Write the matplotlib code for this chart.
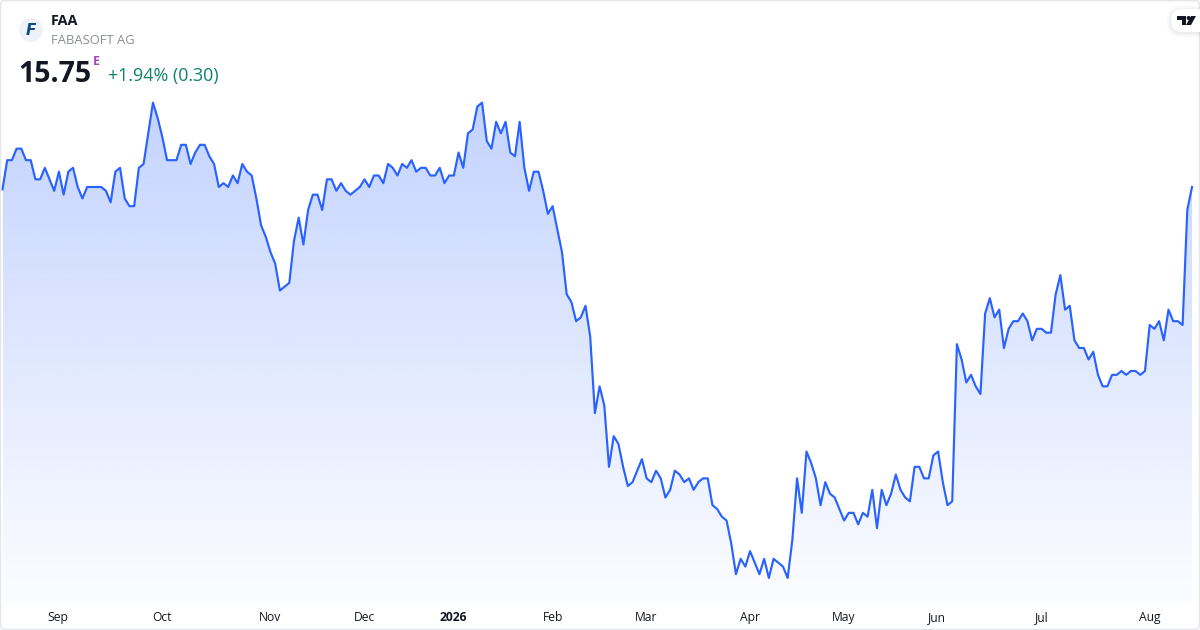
import numpy as np
import matplotlib
matplotlib.use("Agg")
import matplotlib.pyplot as plt
from matplotlib.patches import Circle, FancyBboxPatch, Polygon
from matplotlib.colors import to_rgb

plt.rcParams['font.family'] = ['Open Sans', 'DejaVu Sans']

# prezzi
prezzi_1 = [15.72,16.10,16.10,16.25,16.25,16.10,16.10,15.85,15.85,16.00,15.85,15.70,15.95,15.65,15.95,16.00,
            15.75,15.60,15.75,15.75,15.75,15.75,15.70,15.55,15.95,16.00,15.60,15.50,15.50,16.00,16.05,16.45,
            16.85,16.65,16.40,16.10,16.10,16.10,16.30,16.30,16.05,16.20,16.30,16.30,16.15,16.05,15.75,15.80,
            15.75,15.90,15.80,16.05,15.95,15.90,15.60,15.25,15.10,14.90,14.75,14.40,14.45,14.50,15.05,15.35]
prezzi_2 = [15.00,15.45,15.65,15.65,15.45,15.85,15.85,15.70,15.80,15.70,15.65,15.70,15.75,15.85,15.75,15.90,
            15.90,15.80,16.05,16.00,15.90,16.05,16.00,16.10,15.95,16.00,16.00,15.90,15.90,16.00,15.80,15.90,
            15.90,16.20,16.00,16.45,16.50,16.80,16.85,16.35,16.25,16.60,16.45,16.60,16.20,16.15,16.60,16.00,
            15.70,15.95,15.95,15.70,15.40,15.50,15.20,14.90,14.35]
prezzi_3 = [14.25,14.00,14.05,14.20,13.80,12.80,13.15,12.90,12.10,12.50,12.40,12.10,11.85,11.90,12.05,12.20,
            11.95,11.90,12.05,11.95,11.70,11.80,12.05,12.00,11.90,11.95,11.80,11.90,11.95,11.95,11.60,11.55,
            11.45,11.40,11.10,10.70,10.90,10.80,11.00,10.85,10.70,10.90,10.65,10.90,10.85,10.80,10.65,11.15,
            11.95,11.50,12.30,12.15,11.95,11.60,11.90,11.75,11.70,11.55,11.40,11.50,11.50,11.35]
prezzi_4 = [11.50,11.45,11.80,11.30,11.80,11.60,11.75,12.00,11.80,11.70,11.65,12.10,12.10,11.95,11.95,12.25,
            12.30,11.90,11.60,11.65,13.70,13.50,13.20,13.30,13.15,13.05,14.10,14.30,14.05,14.15,13.65,13.90,
            14.00,14.00,14.10,14.00,13.75,13.90,13.90,13.85,13.85,14.35,14.60,14.15,14.20,13.75,13.65,13.65,
            13.50,13.60,13.30,13.15,13.15,13.30,13.30,13.35,13.30,13.35,13.35,13.30,13.35,13.95,13.90,14.00,
            13.75,14.15,14.00,14.00,13.95,15.45,15.75]
prezzi = np.array(prezzi_1 + prezzi_2 + prezzi_3 + prezzi_4)

mesi = ['Sep', 'Oct', 'Nov', 'Dec', '2026', 'Feb', 'Mar', 'Apr', 'May', 'Jun', 'Jul', 'Aug']
pos_mesi = [11.8, 33.9, 57, 77, 95.9, 117, 137, 159, 179, 198.8, 221, 244]

blu = '#2962ff'
n = len(prezzi)
x = np.arange(n)
passo = (1192 - 2.5) / (n - 1)

fig = plt.figure(figsize=(12, 6.3), dpi=100, facecolor='white')
ax = fig.add_axes([0, 0, 1, 1])
ax.set_facecolor('none')

# scale: 15.75 sta a y=187 px, 76.67 px per unita
y_top = 15.75 + 187 / 76.67
y_bot = 15.75 - 443 / 76.67
x_left = -2.5 / passo
x_right = (1200 - 2.5) / passo

# riempimento a gradiente tagliato sotto la linea
g_alto, g_basso = 100, 604
alpha = np.linspace(0.28, 0.015, 256).reshape(-1, 1)
img = np.zeros((256, 1, 4))
img[:, :, :3] = to_rgb(blu)
img[:, :, 3] = alpha
val_alto = y_top - g_alto / 76.67
val_basso = y_top - g_basso / 76.67
im = ax.imshow(img, extent=[0, n - 1, val_basso, val_alto], aspect='auto', origin='upper', zorder=1)
poly = ax.fill_between(x, prezzi, val_basso, color='none')
im.set_clip_path(poly.get_paths()[0], transform=ax.transData)

ax.plot(x, prezzi, color=blu, lw=1.55, solid_joinstyle='round', zorder=2)

ax.set_xlim(x_left, x_right)
ax.set_ylim(y_bot, y_top)
ax.set_yticks([])
ax.set_xticks(pos_mesi)
ax.set_xticklabels(mesi)
ax.tick_params(axis='x', length=0, pad=-13.6, labelsize=8.7, labelcolor='#131722')
for lab in ax.get_xticklabels():
    if lab.get_text() == '2026':
        lab.set_fontweight('bold')
for s in ax.spines.values():
    s.set_visible(False)

# secondo asse in pixel per intestazione e logo
top = fig.add_axes([0, 0, 1, 1])
top.set_xlim(0, 1200)
top.set_ylim(630, 0)
top.axis('off')

top.add_patch(FancyBboxPatch((0.5, 0.5), 1199, 629, boxstyle='round,pad=0,rounding_size=5',
                             fc='none', ec='#e4e6ec', lw=1.1))

top.add_patch(Circle((31, 30), 12, fc='#eef2fa', ec='none'))
top.text(30.5, 30.5, 'F', color='#0f4a85', fontsize=11, fontweight='bold', fontstyle='oblique',
         family='DejaVu Sans', ha='center', va='center')
top.text(51, 21, 'FAA', color='#131722', fontsize=10.4, fontweight='bold', ha='left', va='center')
top.text(51, 41, 'FABASOFT AG', color='#8a8e98', fontsize=9.4, ha='left', va='center')
top.text(18.5, 74, '15.75', color='#131722', fontsize=20.5, fontweight='bold', ha='left', va='center')
top.text(93, 61.5, 'E', color='#ab47bc', fontsize=9, fontweight='bold', ha='left', va='center')
top.text(108, 76, '+1.94% (0.30)', color='#0b8270', fontsize=12.85, ha='left', va='center')

# logo in alto a destra
for d, a in zip([5, 3.5, 2, 1], [0.012, 0.015, 0.02, 0.025]):
    top.add_patch(FancyBboxPatch((1171 - d, 9 - d + 1), 40 + 2 * d, 23 + 2 * d,
                                 boxstyle='round,pad=0,rounding_size=%.1f' % (11 + d),
                                 fc='black', ec='none', alpha=a))
top.add_patch(FancyBboxPatch((1171, 9), 40, 23, boxstyle='round,pad=0,rounding_size=11',
                             fc='white', ec='none'))
top.add_patch(Polygon([(1177, 16), (1186, 16), (1186, 25), (1182, 25), (1182, 20), (1177, 20)],
                      fc='#131722', ec='none'))
top.add_patch(Circle((1188.6, 18), 2, fc='#131722', ec='none'))
top.add_patch(Polygon([(1191, 16), (1196, 16), (1191, 25), (1186, 25)], fc='#131722', ec='none'))

fig.savefig('out.png', dpi=100)
